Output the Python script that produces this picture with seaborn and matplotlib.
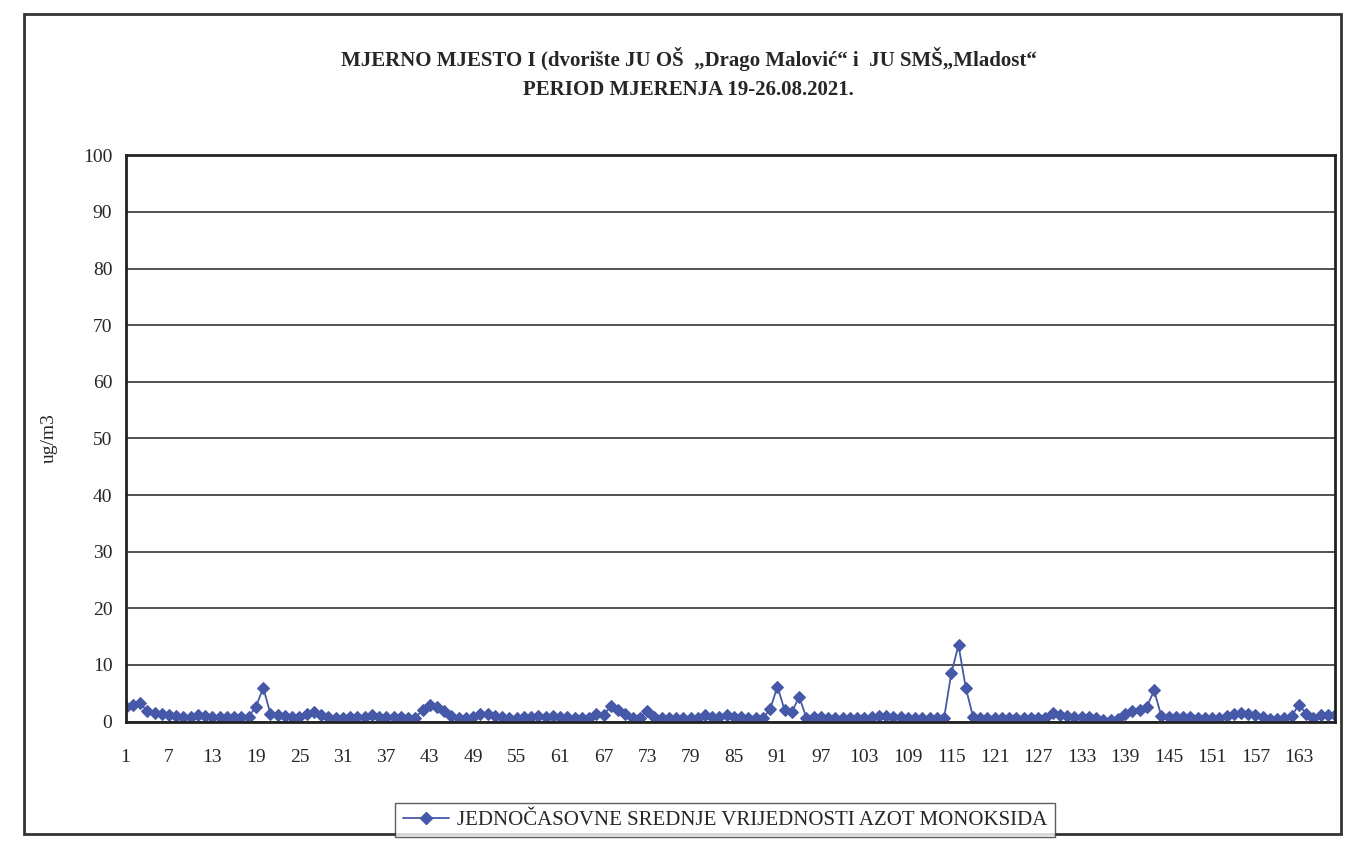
import matplotlib
matplotlib.use('Agg')
import matplotlib.pyplot as plt
from matplotlib.patches import Rectangle
from matplotlib.lines import Line2D
import seaborn as sns
import pandas as pd


# Data
TITLE = 'MJERNO MJESTO I (dvorište JU OŠ  „Drago Malović“ i  JU SMŠ„Mladost“\nPERIOD MJERENJA 19-26.08.2021.'
Y_LABEL = 'ug/m3'
SERIES_NAME = 'JEDNOČASOVNE SREDNJE VRIJEDNOSTI AZOT MONOKSIDA'
hours = list(range(1, 169))
no_values = [
    2.6, 3.0, 3.2, 1.9, 1.6, 1.3, 1.2, 1.0, 0.9, 0.9,
    1.2, 1.0, 0.9, 0.8, 0.8, 0.9, 0.8, 0.9, 2.6, 6.0,
    1.4, 1.1, 1.0, 0.9, 0.8, 1.4, 1.7, 1.2, 0.8, 0.7,
    0.7, 0.8, 0.8, 0.9, 1.2, 0.9, 0.8, 0.9, 0.8, 0.7,
    0.7, 2.0, 3.0, 2.5, 1.8, 1.0, 0.7, 0.7, 0.8, 1.4,
    1.3, 1.0, 0.8, 0.6, 0.7, 0.9, 0.9, 1.0, 0.9, 1.0,
    0.9, 0.8, 0.7, 0.6, 0.6, 1.3, 1.2, 2.7, 2.0, 1.3,
    0.6, 0.7, 1.8, 0.9, 0.6, 0.6, 0.6, 0.6, 0.6, 0.7,
    1.2, 0.8, 0.8, 1.1, 0.9, 0.8, 0.7, 0.6, 0.6, 2.2,
    6.2, 2.0, 1.7, 4.4, 0.7, 0.8, 0.8, 0.7, 0.7, 0.7,
    0.6, 0.6, 0.6, 0.9, 1.0, 1.0, 0.9, 0.8, 0.7, 0.6,
    0.6, 0.6, 0.6, 0.6, 8.5, 13.5, 6.0, 0.9, 0.7, 0.7,
    0.7, 0.6, 0.6, 0.6, 0.6, 0.6, 0.6, 0.6, 1.6, 1.1,
    1.0, 0.9, 0.9, 0.8, 0.6, 0.3, 0.3, 0.5, 1.4, 1.8,
    2.1, 2.6, 5.5, 1.0, 0.8, 0.8, 0.9, 0.8, 0.7, 0.6,
    0.6, 0.7, 1.0, 1.4, 1.5, 1.4, 1.1, 0.8, 0.5, 0.4,
    0.6, 1.0, 3.0, 1.4, 0.7, 1.1, 1.2, 1.2,
]
y_ticks = list(range(0, 101, 10))
x_tick_labels = list(range(1, 169, 6))

# Style
LINE_COLOR = '#4658a8'
SERIF = ['Liberation Serif', 'DejaVu Serif']

sns.set_style('white')
plt.rcParams['font.family'] = SERIF

df = pd.DataFrame({'hour': hours, 'value': no_values})

fig = plt.figure(figsize=(13.5, 8.44), dpi=100)
ax = fig.add_axes([0.093, 0.145, 0.896, 0.671])

sns.lineplot(data=df, x='hour', y='value', ax=ax, color=LINE_COLOR,
             marker='D', markersize=6, markeredgecolor=LINE_COLOR,
             linewidth=1.3, legend=False)

ax.set_xlim(1, 168)
ax.set_ylim(0, 100)
ax.set_yticks(y_ticks)
ax.set_xticks(hours, minor=True)
ax.set_xticks(x_tick_labels)
ax.tick_params(axis='x', which='both', direction='out', length=6, width=1.2,
               color='#333333', labelsize=14, pad=14)
ax.tick_params(axis='y', direction='out', length=6, width=1.2,
               color='#333333', labelsize=14)
ax.yaxis.grid(True, color='#222222', linewidth=1.1)
ax.xaxis.grid(False)
ax.set_axisbelow(True)
for s in ax.spines.values():
    s.set_color('#222222')
    s.set_linewidth(2)

ax.set_xlabel('')
ax.set_ylabel(Y_LABEL, fontsize=14, labelpad=18)

fig.text(0.51, 0.913, TITLE, ha='center', va='center', fontsize=15,
         fontweight='bold', linespacing=1.6)

handle = Line2D([], [], color=LINE_COLOR, marker='D', markersize=6, linewidth=1.3)
fig.legend([handle], [SERIES_NAME], loc='center', bbox_to_anchor=(0.537, 0.028),
           frameon=True, fancybox=False, edgecolor='#333333', fontsize=15,
           handlelength=2.2, borderpad=0.35, handletextpad=0.4)

# outer chart border
fig.patches.append(Rectangle((0.018, 0.012), 0.975, 0.972, transform=fig.transFigure,
                             fill=False, edgecolor='#333333', linewidth=2))

plt.savefig('out.png', dpi=100)
